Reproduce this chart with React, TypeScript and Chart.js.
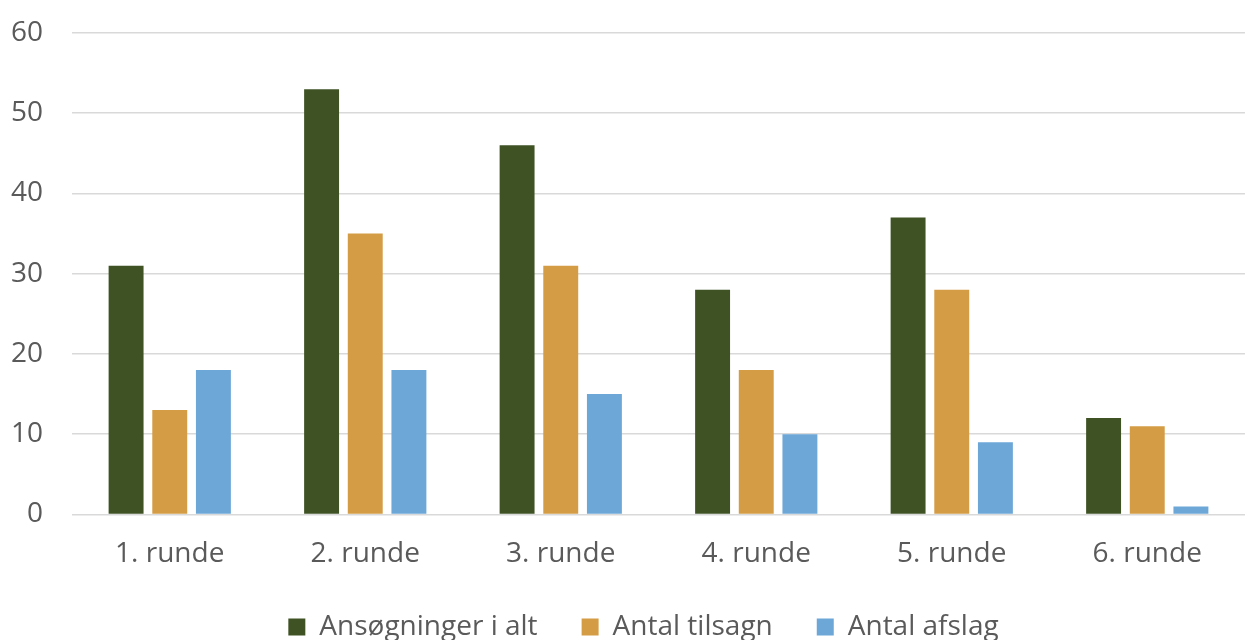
import React, { useEffect, useRef } from "react";
import { Chart, registerables } from "chart.js";

Chart.register(...registerables);

const categories = ["1. runde", "2. runde", "3. runde", "4. runde", "5. runde", "6. runde"];
const ansoegninger = [31, 53, 46, 28, 37, 12];
const tilsagn = [13, 35, 31, 18, 28, 11];
const afslag = [18, 18, 15, 10, 9, 1];
const yTicks = [0, 10, 20, 30, 40, 50, 60];

const FONT = "'Open Sans', 'DejaVu Sans', sans-serif";
const TEXT = "#5a5a5a";
const LEGEND_DX = 21;
const LEGEND_DY = -17;

const legendShift = {
  id: "legendShift",
  afterInit(chart: any) {
    const lg = chart.legend;
    if (!lg || lg.__shifted) return;
    const orig = lg.draw.bind(lg);
    lg.draw = (...args: any[]) => {
      const ctx = chart.ctx;
      ctx.save();
      ctx.translate(LEGEND_DX, LEGEND_DY);
      orig(...args);
      ctx.restore();
    };
    lg.__shifted = true;
  },
};

export default function App() {
  const ref = useRef<HTMLCanvasElement | null>(null);
  useEffect(() => {
    if (!ref.current) return;
    const chart = new Chart(ref.current, {
      type: "bar",
      data: {
        labels: categories,
        datasets: [
          { label: "Ansøgninger i alt", data: ansoegninger, backgroundColor: "#3E5224", borderWidth: 0 },
          { label: "Antal tilsagn", data: tilsagn, backgroundColor: "#D49D45", borderWidth: 0 },
          { label: "Antal afslag", data: afslag, backgroundColor: "#6CA7D8", borderWidth: 0 },
        ],
      },
      plugins: [legendShift],
      options: {
        animation: false,
        responsive: true,
        maintainAspectRatio: false,
        layout: { padding: { top: 33, right: 0, bottom: -28, left: 0 } },
        datasets: { bar: { categoryPercentage: 0.67, barPercentage: 0.8 } },
        plugins: {
          tooltip: { enabled: false },
          legend: {
            position: "bottom",
            labels: {
              font: { family: FONT, size: 28 },
              color: TEXT,
              boxWidth: 17,
              boxHeight: 17,
              padding: 44,
            },
          },
        },
        scales: {
          x: {
            grid: { display: false },
            border: { display: false },
            ticks: { font: { family: FONT, size: 28 }, color: TEXT, padding: 15 },
          },
          y: {
            min: 0,
            max: 60,
            afterBuildTicks: (s: any) => {
              s.ticks = yTicks.map((v) => ({ value: v }));
            },
            afterFit: (s: any) => {
              s.width = 72;
              s.paddingTop = 0;
              s.paddingBottom = 0;
            },
            grid: { color: "#d9d9d9", lineWidth: 1.5, drawTicks: false },
            border: { display: false },
            ticks: { font: { family: FONT, size: 28 }, color: TEXT, padding: 29 },
          },
        },
      },
    });
    return () => chart.destroy();
  }, []);
  return (
    <div style={{ position: "fixed", left: 0, top: 0, width: 1245, height: 640, background: "#fff" }}>
      <canvas ref={ref} />
    </div>
  );
}
